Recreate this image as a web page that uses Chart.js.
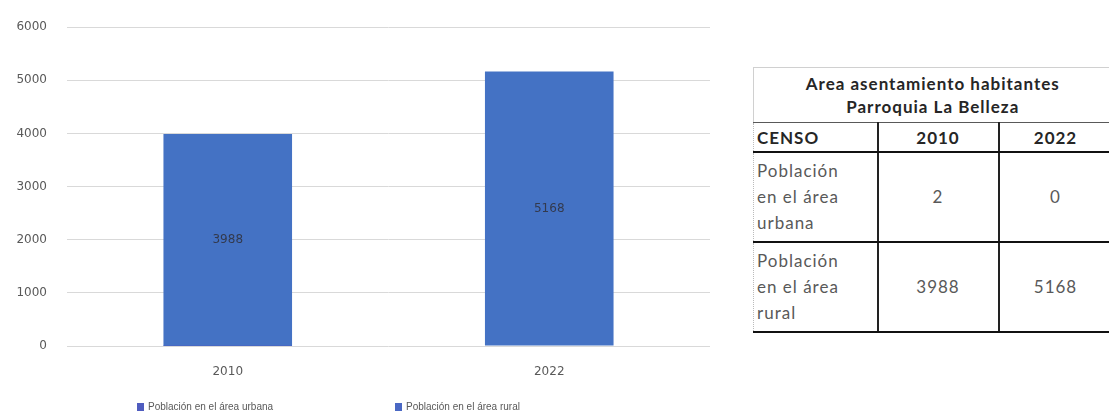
<!DOCTYPE html>
<html>
<head>
<meta charset="utf-8">
<script src="https://cdn.jsdelivr.net/npm/chart.js@4.4.1/dist/chart.umd.min.js"></script>
<style>
  html, body { margin: 0; padding: 0; background: #ffffff; }
  body { width: 1109px; height: 414px; position: relative; overflow: hidden; }
  #chartBox { position: absolute; left: 0; top: 0; width: 720px; height: 414px; }
  #tbl {
    position: absolute; left: 753px; top: 67px; width: 358px;
    border-collapse: collapse; table-layout: fixed;
    font-family: Lato, "Open Sans", sans-serif; font-size: 17px; letter-spacing: 1px;
    color: #595959;
  }
  #tbl td { padding: 0; vertical-align: middle; }
  #tbl .title { text-align: center; font-weight: bold; color: #262626; line-height: 23px; height: 54px;
    border-top: 1px solid #d0d0d0; border-left: 1px solid #d0d0d0; border-bottom: 1px solid #595959; }
  #tbl .hdr td { height: 28px; font-weight: bold; color: #262626; border-bottom: 2px solid #111; }
  #tbl .hdr td.c0 { text-align: left; padding-left: 3px; }
  #tbl td.c0 { border-left: 1px dotted #bbbbbb; border-right: 2px solid #222; padding-left: 3px; text-align: left; }
  #tbl td.c1 { text-align: center; border-right: 2px solid #222; }
  #tbl td.c2 { text-align: center; }
  #tbl .row td { height: 88px; line-height: 26px; border-bottom: 2px solid #111; }
</style>
</head>
<body>
<div id="chartBox"><canvas id="c" width="720" height="414"></canvas></div>
<table id="tbl"></table>
<script>
// ---- data ----
const categories = ["2010", "2022"];
const seriesNames = ["Población en el área urbana", "Población en el área rural"];
const urbanValues = [2, 0];
const ruralValues = [3988, 5168];
const yTicks = [0, 1000, 2000, 3000, 4000, 5000, 6000];
const tableTitle = ["Area asentamiento habitantes", "Parroquia La Belleza"];
const tableHeader = ["CENSO", "2010", "2022"];
const tableRowLabels = [["Población", "en el área", "urbana"], ["Población", "en el área", "rural"]];

// ---- table (HTML) ----
(function buildTable() {
  const t = document.getElementById('tbl');
  const cg = document.createElement('colgroup');
  [124, 121, 113].forEach(w => { const c = document.createElement('col'); c.style.width = w + 'px'; cg.appendChild(c); });
  t.appendChild(cg);
  const tr0 = document.createElement('tr');
  const td0 = document.createElement('td'); td0.colSpan = 3; td0.className = 'title';
  td0.innerHTML = tableTitle.join('<br>');
  tr0.appendChild(td0); t.appendChild(tr0);
  const trh = document.createElement('tr'); trh.className = 'hdr';
  tableHeader.forEach((h, i) => { const td = document.createElement('td'); td.className = 'c' + i; td.textContent = h; trh.appendChild(td); });
  t.appendChild(trh);
  const rowVals = [urbanValues, ruralValues];
  tableRowLabels.forEach((lab, r) => {
    const tr = document.createElement('tr'); tr.className = 'row';
    const a = document.createElement('td'); a.className = 'c0'; a.innerHTML = lab.join('<br>'); tr.appendChild(a);
    rowVals[r].forEach((v, i) => { const td = document.createElement('td'); td.className = 'c' + (i + 1); td.textContent = String(v); tr.appendChild(td); });
    t.appendChild(tr);
  });
})();

// ---- plugins ----
const valueLabels = {
  id: 'valueLabels',
  afterDatasetsDraw(chart) {
    const ctx = chart.ctx;
    const dsIndex = 1;
    const meta = chart.getDatasetMeta(dsIndex);
    ctx.save();
    ctx.font = '12px "DejaVu Sans", sans-serif';
    ctx.fillStyle = '#333a4e';
    ctx.textAlign = 'center';
    ctx.textBaseline = 'middle';
    meta.data.forEach((bar, i) => {
      const p = bar.getCenterPoint();
      ctx.fillText(String(chart.data.datasets[dsIndex].data[i]), p.x, p.y);
    });
    ctx.restore();
  }
};
const bottomLegend = {
  id: 'bottomLegend',
  afterDraw(chart, args, opts) {
    const ctx = chart.ctx;
    ctx.save();
    ctx.font = opts.font;
    ctx.textBaseline = 'middle';
    ctx.textAlign = 'left';
    chart.data.datasets.forEach((ds, i) => {
      const x = opts.xs[i];
      ctx.fillStyle = opts.boxColors[i];
      ctx.fillRect(x, opts.y - 4, 7, 8);
      ctx.fillStyle = opts.color;
      ctx.fillText(ds.label, x + 11, opts.y);
    });
    ctx.restore();
  }
};

new Chart(document.getElementById('c'), {
  type: 'bar',
  data: {
    labels: categories,
    datasets: [
      { label: seriesNames[0], data: urbanValues, backgroundColor: '#4a5fc1', barPercentage: 0.4, categoryPercentage: 1.0 },
      { label: seriesNames[1], data: ruralValues, backgroundColor: '#4472C4', barPercentage: 0.4, categoryPercentage: 1.0 }
    ]
  },
  options: {
    responsive: false,
    animation: false,
    devicePixelRatio: 1,
    layout: { padding: { top: 25, right: 10, left: 0, bottom: 0 } },
    plugins: {
      legend: { display: false },
      tooltip: { enabled: false },
      bottomLegend: { xs: [137, 395], y: 407, font: '10px "Liberation Sans", sans-serif', color: '#595959', boxColors: ['#4f5cbf', '#4a68c4'] }
    },
    scales: {
      x: {
        stacked: true,
        grid: { display: false, drawTicks: false },
        border: { display: false },
        ticks: { color: '#595959', font: { family: 'DejaVu Sans', size: 12 }, padding: 19 },
        afterFit(s) { s.height = 68; }
      },
      y: {
        stacked: true,
        min: 0, max: 6000,
        afterBuildTicks(s) { s.ticks = yTicks.map(v => ({ value: v })); },
        grid: { color: '#d9d9d9', lineWidth: 1, drawTicks: false },
        border: { display: false },
        ticks: { color: '#595959', font: { family: 'DejaVu Sans', size: 12 }, padding: 20, callback: v => String(v) },
        afterFit(s) { s.width = 67; }
      }
    }
  },
  plugins: [valueLabels, bottomLegend]
});
</script>
</body>
</html>
